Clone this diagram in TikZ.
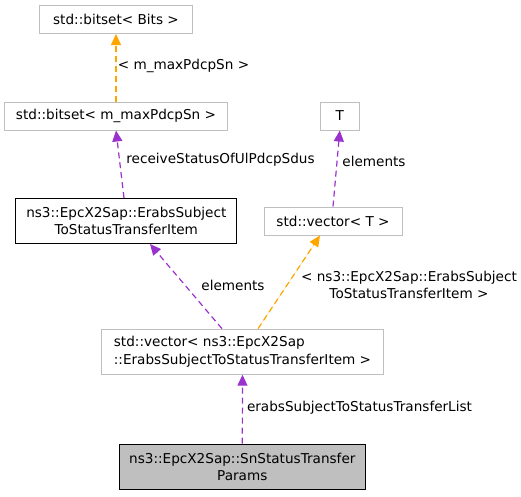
\documentclass[tikz,border=0pt]{standalone}
\usepackage{fontspec}
\setmainfont{DejaVu Sans}
\usetikzlibrary{arrows.meta}
\definecolor{edgepurple}{HTML}{9A32CD}
\definecolor{edgeorange}{HTML}{FFA500}
\definecolor{boxgray}{HTML}{BFBFBF}
\begin{document}
\begin{tikzpicture}[x=1pt, y=-1pt,
            box/.style={draw=boxgray, fill=white, rectangle, inner sep=0pt, line width=1pt, align=center, font=\fontsize{13.6}{17.5}\selectfont},
            lbl/.style={inner sep=0pt, align=center, font=\fontsize{13.6}{17.5}\selectfont},
            uses/.style={-{Triangle[length=11pt, width=10pt]}, edgepurple, line width=1.2pt, dash pattern=on 6pt off 4pt},
            tmpl/.style={uses, draw=edgeorange, fill=edgeorange}]
            \useasboundingbox (0,0) rectangle (521,496);
            \node[box, minimum width=153pt, minimum height=28pt] (bits) at (116,19.5) {std::bitset< Bits >};
            \node[box, minimum width=223pt, minimum height=28pt] (bitsmax) at (116,116) {std::bitset< m\_maxPdcpSn >};
            \node[box, draw=black, minimum width=221pt, minimum height=45pt] (item) at (126.3,221) {ns3::EpcX2Sap::ErabsSubject\\ToStatusTransferItem};
            \node[box, minimum width=39pt, minimum height=28pt] (tparam) at (339.8,116) {T};
            \node[box, minimum width=138pt, minimum height=28pt] (vect) at (333,221) {std::vector< T >};
            \node[box, align=left, minimum width=282pt, minimum height=45pt] (vectitem) at (242.5,351.7) {std::vector< ns3::EpcX2Sap\\::ErabsSubjectToStatusTransferItem >};
            \node[box, draw=black, fill=boxgray, minimum width=246pt, minimum height=45pt] (params) at (242.3,466.7) {ns3::EpcX2Sap::SnStatusTransfer\\Params};

            \draw[tmpl] (bitsmax.north) -- (bits.south);
            \draw[uses] ([xshift=-2.3pt]item.north) -- (bitsmax.south);
            \draw[uses] (vect.north) -- (tparam.south);
            \draw[uses] ([xshift=-20.5pt]vectitem.north) -- ([xshift=23.7pt]item.south);
            \draw[tmpl] ([xshift=15.5pt]vectitem.north) -- ([xshift=-13pt]vect.south);
            \draw[uses] (params.north) -- (vectitem.south);

            \node[lbl] (lblbits) at (183.5,66) {< m\_maxPdcpSn >};
            \node[lbl] (lblrecv) at (220.5,160) {receiveStatusOfUlPdcpSdus};
            \node[lbl] (lblelemt) at (374,161) {elements};
            \node[lbl] (lblelemitem) at (233,285) {elements};
            \node[lbl] (lbltmpl) at (409,285) {< ns3::EpcX2Sap::ErabsSubject\\ToStatusTransferItem >};
            \node[lbl] (lbllist) at (359.5,408) {erabsSubjectToStatusTransferList};
        \end{tikzpicture}
\end{document}
